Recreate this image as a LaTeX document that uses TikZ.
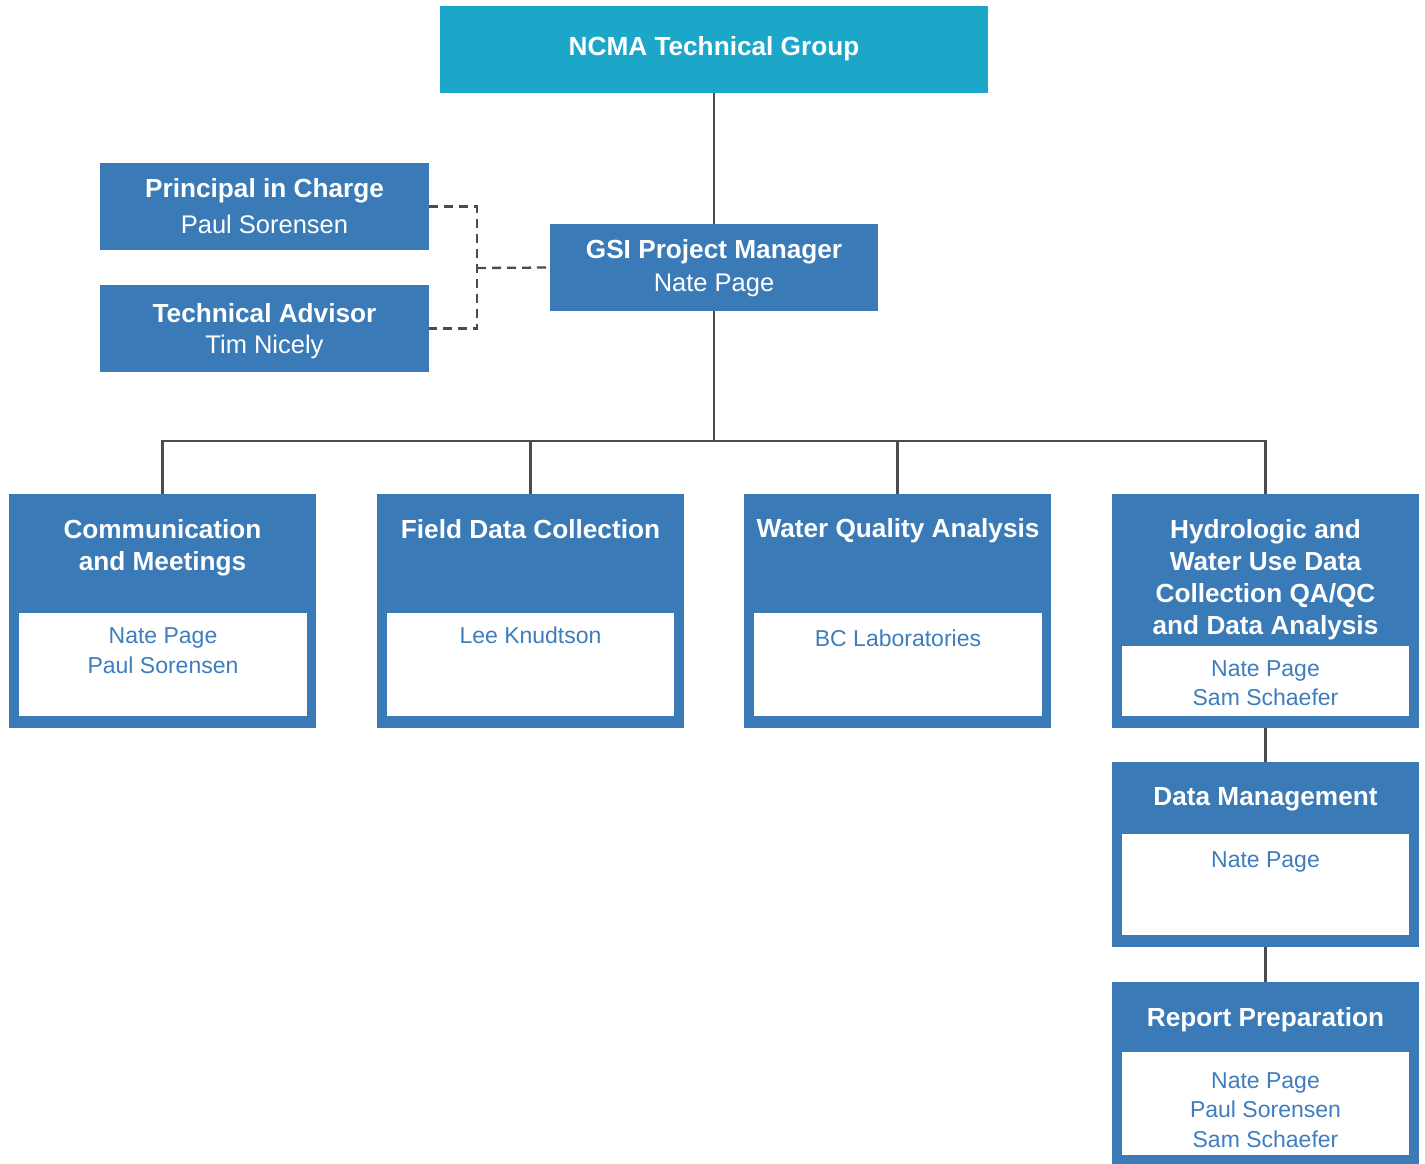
\documentclass[tikz,border=0pt]{standalone}
\usepackage{fontspec}
\setmainfont{Liberation Sans}
\definecolor{ncmateal}{HTML}{1CA6C8}
\definecolor{gsiblue}{HTML}{3A7AB7}
\definecolor{nameblue}{HTML}{3E7DBE}
\definecolor{linegray}{HTML}{4B4B52}
\newcommand{\ttlfont}{\fontsize{26.2}{32}\selectfont\bfseries}
\newcommand{\nmfont}{\fontsize{23}{29.5}\selectfont}
\newcommand{\topnmfont}{\fontsize{25.5}{30}\selectfont}
\begin{document}
\begin{tikzpicture}[x=1pt,y=-1pt,
  bluebox/.style={fill=gsiblue, inner sep=0pt, outer sep=0pt, text=white, align=center},
  whitebox/.style={fill=white, inner sep=0pt, outer sep=0pt},
  ttl/.style={text=white, font=\ttlfont, align=center, inner sep=0pt},
  topnm/.style={text=white, font=\topnmfont, inner sep=0pt},
  names/.style={text=nameblue, font=\nmfont, align=center, inner sep=0pt},
  conn/.style={draw=linegray, line width=2.3pt},
  dashconn/.style={draw=linegray, line width=2.3pt, dash pattern=on 9pt off 6pt}]
\useasboundingbox (0,0) rectangle (1425,1163);

% top
\node[fill=ncmateal, inner sep=0pt, outer sep=0pt, minimum width=548pt, minimum height=87pt] (ncma) at (714,49.5) {};
\node[ttl] (ncmat) at (714,49) {NCMA Technical Group};

\node[bluebox, minimum width=329pt, minimum height=87pt] (pic) at (264.5,206.5) {};
\node[ttl] (pict) at (264.5,191) {Principal in Charge};
\node[topnm] (picn) at (264.5,224.5) {Paul Sorensen};

\node[bluebox, minimum width=329pt, minimum height=87pt] (ta) at (264.5,328.5) {};
\node[ttl] (tat) at (264.5,313) {Technical Advisor};
\node[topnm] (tan) at (264.5,346.5) {Tim Nicely};

\node[bluebox, minimum width=328pt, minimum height=87pt] (gsi) at (714,267.5) {};
\node[ttl] (gsit) at (714,252) {GSI Project Manager};
\node[topnm] (gsin) at (714,285.5) {Nate Page};

% bottom row
\node[bluebox, minimum width=307pt, minimum height=234pt] (cm) at (162.5,611) {};
\node[whitebox, minimum width=288pt, minimum height=103pt] (cmw) at (163,664.5) {};
\node[ttl] (cmt) at (162.5,547.5) {Communication\\and Meetings};
\node[names] (cmn) at (163,650.5) {Nate Page\\Paul Sorensen};

\node[bluebox, minimum width=307pt, minimum height=234pt] (fdc) at (530.5,611) {};
\node[whitebox, minimum width=287pt, minimum height=103pt] (fdcw) at (530.5,664.5) {};
\node[ttl] (fdct) at (530.5,529) {Field Data Collection};
\node[names] (fdcn) at (530.5,635.5) {Lee Knudtson};

\node[bluebox, minimum width=307pt, minimum height=234pt] (wqa) at (897.5,611) {};
\node[whitebox, minimum width=288pt, minimum height=103pt] (wqaw) at (898,664.5) {};
\node[ttl] (wqat) at (898,531) {Water Quality Analysis};
\node[names] (wqan) at (898,638.5) {BC Laboratories};

\node[bluebox, minimum width=307pt, minimum height=234pt] (hyd) at (1265.5,611) {};
\node[whitebox, minimum width=287pt, minimum height=70pt] (hydw) at (1265.5,681) {};
\node[ttl] (hydt) at (1265.5,579.5) {Hydrologic and\\Water Use Data\\Collection QA/QC\\and Data Analysis};
\node[names] (hydn) at (1265.5,683) {Nate Page\\Sam Schaefer};

\node[bluebox, minimum width=307pt, minimum height=185pt] (dm) at (1265.5,854.5) {};
\node[whitebox, minimum width=287pt, minimum height=101pt] (dmw) at (1265.5,884.5) {};
\node[ttl] (dmt) at (1265.5,799.5) {Data Management};
\node[names] (dmn) at (1265.5,861.5) {Nate Page};

\node[bluebox, minimum width=307pt, minimum height=186pt] (rp) at (1265.5,1075) {};
\node[whitebox, minimum width=287pt, minimum height=103pt] (rpw) at (1265.5,1103.5) {};
\node[ttl] (rpt) at (1265.5,1019.5) {Report Preparation};
\node[names] (rpn) at (1265.5,1110) {Nate Page\\Paul Sorensen\\Sam Schaefer};

% connectors
\coordinate (bus) at (714,441);
\coordinate (dj) at (477,268);
\draw[conn] (ncma.south) -- (gsi.north);
\draw[conn] (gsi.south) -- (bus);
\draw[conn] (cm.north) -- (cm.north |- bus) -- (hyd.north |- bus) -- (hyd.north);
\draw[conn] (fdc.north) -- (fdc.north |- bus);
\draw[conn] (wqa.north) -- (wqa.north |- bus);
\draw[conn] (hyd.south) -- (dm.north);
\draw[conn] (dm.south) -- (rp.north);
\draw[dashconn] (pic.east) -| (dj) |- (ta.east);
\draw[dashconn] (dj) -- (gsi.west);
\end{tikzpicture}
\end{document}
